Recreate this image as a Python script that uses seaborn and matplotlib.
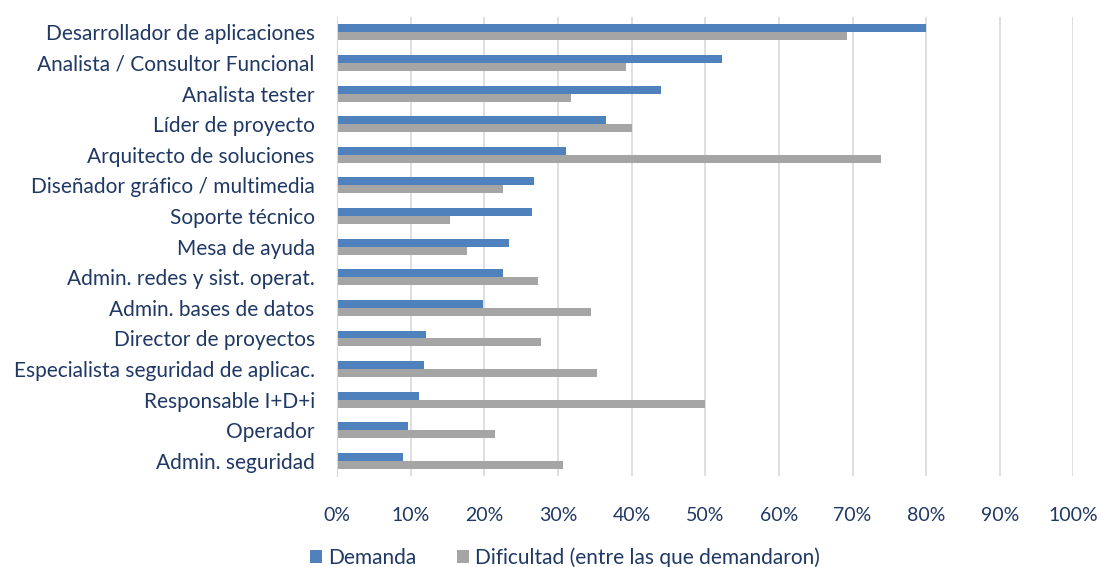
import pandas as pd
import numpy as np
import matplotlib.pyplot as plt
import seaborn as sns
from matplotlib.ticker import PercentFormatter

# data (percent)
roles = [
    'Desarrollador de aplicaciones', 'Analista / Consultor Funcional', 'Analista tester',
    'Líder de proyecto', 'Arquitecto de soluciones', 'Diseñador gráfico / multimedia',
    'Soporte técnico', 'Mesa de ayuda', 'Admin. redes y sist. operat.',
    'Admin. bases de datos', 'Director de proyectos', 'Especialista seguridad de aplicac.',
    'Responsable I+D+i', 'Operador', 'Admin. seguridad'
]
demanda = [80.0, 52.3, 44.0, 36.5, 31.1, 26.8, 26.5, 23.3, 22.6, 19.9, 12.1, 11.8, 11.1, 9.6, 9.0]
dificultad = [69.3, 39.3, 31.8, 40.0, 73.9, 22.5, 15.4, 17.6, 27.3, 34.5, 27.7, 35.3, 50.0, 21.4, 30.7]
series = ['Demanda', 'Dificultad (entre las que demandaron)']

df = pd.DataFrame({'rol': roles, series[0]: demanda, series[1]: dificultad})
df = df.melt(id_vars='rol', var_name='serie', value_name='valor')

sns.set_style('white')
plt.rcParams['font.family'] = ['Lato', 'DejaVu Sans']
text_color = '#1F3864'

fig, ax = plt.subplots(figsize=(11.01, 5.67), dpi=100)
fig.subplots_adjust(left=0.306, right=0.975, top=0.97, bottom=0.16)

sns.barplot(data=df, y='rol', x='valor', hue='serie', order=roles, hue_order=series,
            palette=['#4F81BD', '#A5A5A5'], saturation=1, width=0.52, gap=0, ax=ax,
            edgecolor='none', orient='h')

ax.set_xlim(0, 100)
ax.set_xticks(np.arange(0, 101, 10))
ax.xaxis.set_major_formatter(PercentFormatter(decimals=0))
ax.grid(axis='x', color='#D9D9D9', linewidth=1.2)
ax.set_axisbelow(True)
for s in ['top', 'right', 'bottom']:
    ax.spines[s].set_visible(False)
ax.spines['left'].set_color('#D9D9D9')
ax.set_xlabel('')
ax.set_ylabel('')
ax.tick_params(axis='x', colors=text_color, labelsize=14, length=0, pad=22)
ax.tick_params(axis='y', colors=text_color, labelsize=15, length=0, pad=16)
for lab in ax.get_xticklabels() + ax.get_yticklabels():
    lab.set_color(text_color)

leg = ax.legend(loc='upper left', bbox_to_anchor=(-0.037, -0.155), ncol=2, frameon=False,
                fontsize=15, handlelength=0.58, handleheight=0.58, columnspacing=1.97,
                handletextpad=0.29, borderpad=0, borderaxespad=0)
for t in leg.get_texts():
    t.set_color(text_color)

fig.savefig('out.png', dpi=100)
